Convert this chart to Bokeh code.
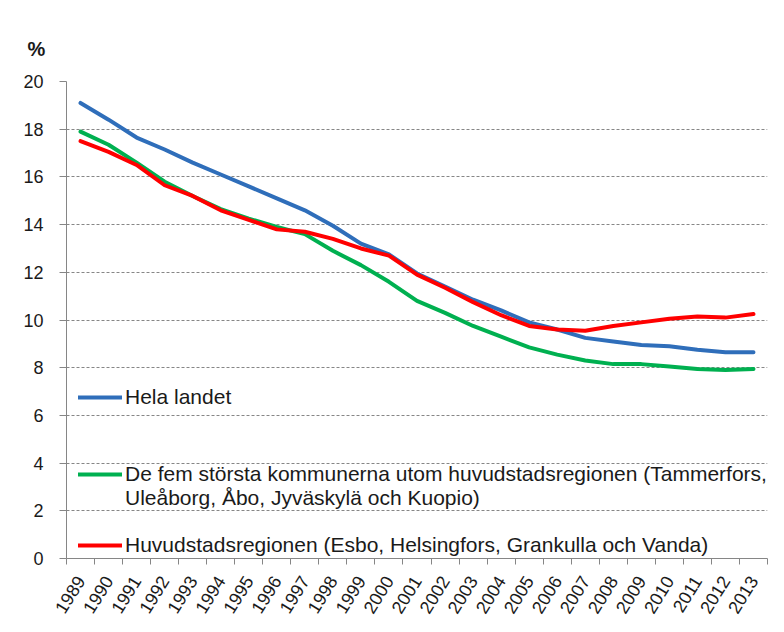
import math
from bokeh.plotting import figure
from bokeh.models import Legend, LegendItem, FixedTicker, Title
from bokeh.embed import file_html
from bokeh.resources import INLINE

years = list(range(1989, 2014))
hela_landet = [19.1, 18.4, 17.65, 17.15, 16.6, 16.1, 15.6, 15.1, 14.6, 13.95, 13.2, 12.75,
               11.95, 11.4, 10.85, 10.4, 9.9, 9.6, 9.25, 9.1, 8.95, 8.9, 8.75, 8.65, 8.65]
fem_storsta = [17.9, 17.35, 16.6, 15.8, 15.2, 14.65, 14.25, 13.9, 13.6, 12.9, 12.3, 11.6,
               10.8, 10.3, 9.75, 9.3, 8.85, 8.55, 8.3, 8.15, 8.15, 8.05, 7.95, 7.9, 7.95]
huvudstad = [17.5, 17.05, 16.5, 15.65, 15.2, 14.6, 14.2, 13.8, 13.7, 13.4, 13.0, 12.7,
             11.9, 11.35, 10.75, 10.2, 9.75, 9.6, 9.55, 9.75, 9.9, 10.05, 10.15, 10.1, 10.25]
y_ticks = list(range(0, 21, 2))

label_hela = "Hela landet"
label_fem_1 = "De fem största kommunerna utom huvudstadsregionen (Tammerfors,"
label_fem_2 = "Uleåborg, Åbo, Jyväskylä och Kuopio)"
label_huvud = "Huvudstadsregionen (Esbo, Helsingfors, Grankulla och Vanda)"

FONT = "Liberation Sans"
GRAY = "#868686"
BLUE = "#2F6EBA"
GREEN = "#00B050"
RED = "#FF0000"

p = figure(width=776, height=624, output_backend="svg", toolbar_location=None,
           x_range=(years[0] - 0.5, years[-1] + 0.5), y_range=(0, 20),
           min_border_left=66, min_border_right=9, min_border_top=81, min_border_bottom=66)
p.outline_line_color = None
p.background_fill_color = "white"
p.border_fill_color = "white"

p.title = Title(text="%", align="left", offset=-39, standoff=43,
                text_font=FONT, text_font_size="20px", text_font_style="bold",
                text_color="#1a1a1a")

r_blue = p.line(years, hela_landet, line_color=BLUE, line_width=4, line_join="round", line_cap="round")
r_green = p.line(years, fem_storsta, line_color=GREEN, line_width=4, line_join="round", line_cap="round")
r_red = p.line(years, huvudstad, line_color=RED, line_width=4, line_join="round", line_cap="round")
r_dummy = p.line([], [], line_alpha=0)

# axes
p.xaxis.ticker = FixedTicker(ticks=years, minor_ticks=[y - 0.5 for y in years] + [years[-1] + 0.5])
p.xaxis.major_tick_line_color = None
p.xaxis.minor_tick_line_color = GRAY
p.xaxis.minor_tick_out = 6
p.xaxis.minor_tick_in = 0
p.xaxis.axis_line_color = GRAY
p.xaxis.major_label_orientation = math.radians(58)
p.xaxis.major_label_standoff = 13
p.xaxis.major_label_text_font = FONT
p.xaxis.major_label_text_font_size = "18px"
p.xaxis.major_label_text_color = "#1a1a1a"

p.yaxis.ticker = FixedTicker(ticks=y_ticks)
p.yaxis.minor_tick_line_color = None
p.yaxis.major_tick_line_color = GRAY
p.yaxis.major_tick_out = 7
p.yaxis.major_tick_in = 0
p.yaxis.axis_line_color = GRAY
p.yaxis.major_label_standoff = 16
p.yaxis.major_label_text_font = FONT
p.yaxis.major_label_text_font_size = "18px"
p.yaxis.major_label_text_color = "#1a1a1a"

p.xgrid.visible = False
p.ygrid.grid_line_color = GRAY
p.ygrid.grid_line_dash = "3 2"
p.ygrid.grid_line_width = 1


def make_legend(items, loc):
    return Legend(items=items, location=loc, orientation="vertical",
                  background_fill_alpha=0, border_line_alpha=0,
                  padding=0, margin=0, spacing=0,
                  glyph_width=44, glyph_height=24, label_height=24,
                  label_standoff=3,
                  label_text_font=FONT, label_text_font_size="21px",
                  label_text_color="#1a1a1a")


leg1 = make_legend([LegendItem(label=label_hela, renderers=[r_blue])], (12, 149))
leg2 = make_legend([LegendItem(label=label_fem_1, renderers=[r_green]),
                    LegendItem(label=label_fem_2, renderers=[r_dummy])], (12, 48))
leg3 = make_legend([LegendItem(label=label_huvud, renderers=[r_red])], (12, 1))
for lg in (leg1, leg2, leg3):
    p.add_layout(lg, "center")

open("out.html", "w").write(file_html(p, INLINE))
